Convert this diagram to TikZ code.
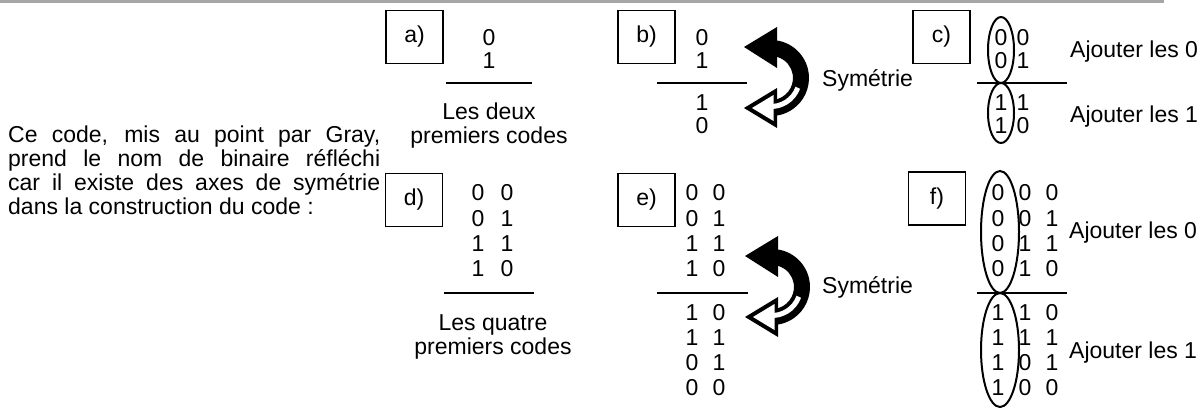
\documentclass[tikz,border=0pt]{standalone}
\usepackage{fontspec}
\setmainfont{Liberation Sans}
\begin{document}
\begin{tikzpicture}[x=1pt,y=-1pt,
  every node/.style={inner sep=0pt, font=\fontsize{23}{24}\selectfont},
  lblbox/.style={draw, line width=1.9pt, minimum width=57pt, minimum height=53pt},
  dig/.style={anchor=center},
  txtline/.style={anchor=base west},
  captxt/.style={anchor=base},
  rulel/.style={line width=2.2pt},
  ovl/.style={line width=2pt},
  symarrow/.pic={
    \fill (-95:38) arc[start angle=-95,end angle=95,radius=38] -- (95:22) arc[start angle=95,end angle=-95,radius=22] -- cycle;
    \fill (-27,-31) -- (6,-51) -- (6,-10) -- cycle;
    \fill (-27,30) -- (6,10) -- (6,50) -- cycle;
    \fill[white] (-19,30) -- (2.5,17) -- (2.5,43) -- cycle;
    \draw[white, line width=5pt] (20:28.5) arc[start angle=20,end angle=95,radius=28.5];
  }
]
\useasboundingbox (0,0) rectangle (1203,410);
% top rule
\fill[gray!70] (0,0) rectangle (1164,2.5);

% paragraph
\node[txtline] (p1) at (8,142) {\makebox[372pt][s]{Ce code, mis au point par Gray,}};
\node[txtline] (p2) at (8,166) {\makebox[372pt][s]{prend le nom de binaire réfléchi}};
\node[txtline] (p3) at (8,190) {\makebox[372pt][s]{car il existe des axes de symétrie}};
\node[txtline] (p4) at (8,214) {dans la construction du code :};

% ---------- row 1 ----------
\node[lblbox] (ba) at (414.5,37) {a)};
\node[lblbox] (bb) at (646.5,37) {b)};
\node[lblbox] (bc) at (941.5,37) {c)};

% a)
\node[dig] (a1) at (489,38) {0};
\node[dig] (a2) at (489,61) {1};
\draw[rulel] (446,83) -- (532,83);
\node[captxt] (a3) at (489,119) {Les deux};
\node[captxt] (a4) at (489,143) {premiers codes};

% b)
\node[dig] (b1) at (702,38) {0};
\node[dig] (b2) at (702,61) {1};
\draw[rulel] (657,83) -- (747,83);
\node[dig] (b3) at (702,103) {1};
\node[dig] (b4) at (702,126) {0};
\pic at (771,78) {symarrow};
\node[txtline] (bs) at (822,86) {Symétrie};

% c)
\node[dig] (c11) at (1001,38) {0};
\node[dig] (c12) at (1023,38) {0};
\node[dig] (c21) at (1001,61) {0};
\node[dig] (c22) at (1023,61) {1};
\draw[rulel] (977,83) -- (1067,83);
\node[dig] (c31) at (1001,103) {1};
\node[dig] (c32) at (1023,103) {1};
\node[dig] (c41) at (1001,126) {1};
\node[dig] (c42) at (1023,126) {0};
\draw[ovl] (1001,50) ellipse [x radius=13, y radius=33];
\draw[ovl] (1001,113) ellipse [x radius=13, y radius=30];
\node[txtline] (c0) at (1070,57) {Ajouter les 0};
\node[txtline] (c1) at (1070,122) {Ajouter les 1};

% ---------- row 2 ----------
\node[lblbox] (bd) at (414,200) {d)};
\node[lblbox] (be) at (646.5,200) {e)};
\node[lblbox] (bf) at (937,198.5) {f)};

% d)
\foreach \r/\u/\v [count=\i] in {193/0/0,219/0/1,244/1/1,269/1/0}{
  \node[dig] (d\i a) at (478,\r) {\u};
  \node[dig] (d\i b) at (507,\r) {\v};
}
\draw[rulel] (444,293) -- (534,293);
\node[captxt] (dq) at (493,330) {Les quatre};
\node[captxt] (dp) at (493,354) {premiers codes};

% e)
\foreach \r/\u/\v [count=\i] in {193/0/0,219/0/1,244/1/1,269/1/0,313/1/0,338/1/1,363/0/1,388/0/0}{
  \node[dig] (e\i a) at (692,\r) {\u};
  \node[dig] (e\i b) at (719,\r) {\v};
}
\draw[rulel] (657,293) -- (748,293);
\pic at (772,287) {symarrow};
\node[txtline] (es) at (822,293) {Symétrie};

% f)
\foreach \r/\u/\v/\w [count=\i] in {193/0/0/0,219/0/0/1,244/0/1/1,269/0/1/0,313/1/1/0,338/1/1/1,363/1/0/1,388/1/0/0}{
  \node[dig] (f\i a) at (998,\r) {\u};
  \node[dig] (f\i b) at (1025,\r) {\v};
  \node[dig] (f\i c) at (1052,\r) {\w};
}
\draw[rulel] (977,293) -- (1067,293);
\draw[ovl] (1000,232) ellipse [x radius=19, y radius=61];
\draw[ovl] (1000,350) ellipse [x radius=19, y radius=57];
\node[txtline] (f0) at (1069,238) {Ajouter les 0};
\node[txtline] (f1) at (1069,358) {Ajouter les 1};
\end{tikzpicture}
\end{document}
